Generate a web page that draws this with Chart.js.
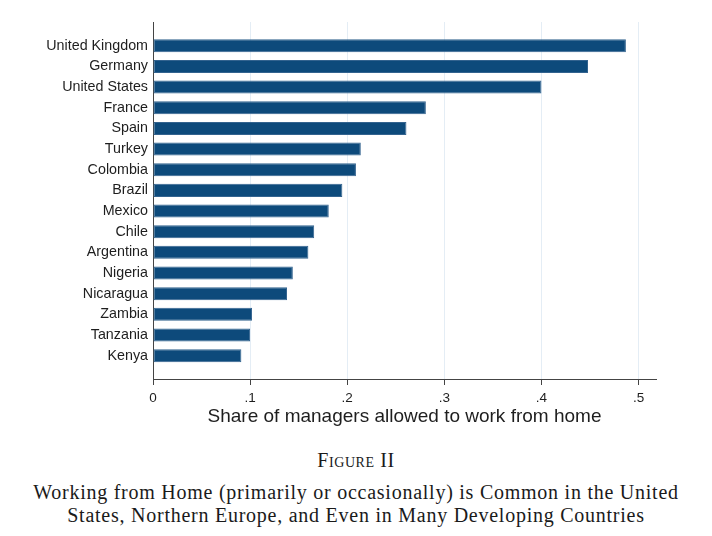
<!DOCTYPE html>
<html>
<head>
<meta charset="utf-8">
<script src="https://cdn.jsdelivr.net/npm/chart.js@4"></script>
<style>
  body { margin: 0; background: #fff; }
  #wrap { position: relative; width: 712px; height: 536px; }
  #chart { position: absolute; left: 0; top: 0; }
  .caption { position: absolute; left: 0; width: 712px; text-align: center;
             font-family: "Liberation Serif", "DejaVu Serif", serif; color: #1a1a1a; }
  #fig { top: 449px; font-size: 20px; letter-spacing: 0.6px; font-variant: small-caps; }
  #cap { top: 481px; font-size: 20px; letter-spacing: 0.75px; line-height: 23px; }
</style>
</head>
<body>
<div id="wrap">
  <canvas id="chart" width="712" height="440"></canvas>
  <div class="caption" id="fig">Figure II</div>
  <div class="caption" id="cap">Working from Home (primarily or occasionally) is Common in the United<br>States, Northern Europe, and Even in Many Developing Countries</div>
</div>
<script>
// countries, top to bottom
const countries = ["United Kingdom", "Germany", "United States", "France", "Spain", "Turkey",
    "Colombia", "Brazil", "Mexico", "Chile", "Argentina", "Nigeria", "Nicaragua",
    "Zambia", "Tanzania", "Kenya"];

// share of managers allowed to work from home
const shares = [0.487, 0.448, 0.400, 0.281, 0.261, 0.214, 0.209, 0.195, 0.181, 0.166,
    0.160, 0.144, 0.138, 0.102, 0.100, 0.091];

// x axis ticks
const xTickValues = [0, 0.1, 0.2, 0.3, 0.4, 0.5];
const xTickLabels = ["0", ".1", ".2", ".3", ".4", ".5"];

const textColor = "#1e1e1e";

const ctx = document.getElementById("chart").getContext("2d");

new Chart(ctx, {
    type: "bar",
    data: {
        datasets: [{
            data: shares.map((v, i) => ({ x: v, y: i })),
            backgroundColor: "#0d4a7b",
            borderColor: "#33638f",
            borderWidth: 1,
            borderSkipped: false,
            categoryPercentage: 1,
            barPercentage: 0.63
        }]
    },
    options: {
        indexAxis: "y",
        responsive: false,
        animation: false,
        layout: { padding: { top: 22, right: 56, left: 0, bottom: 0 } },
        plugins: {
            legend: { display: false },
            tooltip: { enabled: false }
        },
        scales: {
            x: {
                type: "linear",
                min: 0,
                max: 0.518,
                afterFit: s => { s.height = 61; },
                afterBuildTicks: s => { s.ticks = xTickValues.map(v => ({ value: v })); },
                grid: {
                    color: "#e4edf5",
                    tickColor: "#444",
                    tickLength: 6
                },
                border: { color: "#444", width: 1 },
                ticks: {
                    padding: 5,
                    maxRotation: 0,
                    color: textColor,
                    font: { family: "Liberation Sans, Arial, sans-serif", size: 13.5 },
                    callback: (val, idx) => xTickLabels[idx]
                },
                title: {
                    display: true,
                    text: "Share of managers allowed to work from home",
                    color: textColor,
                    font: { family: "Liberation Sans, Arial, sans-serif", size: 19 },
                    padding: { top: 0, bottom: 12 }
                }
            },
            y: {
                type: "linear",
                reverse: true,
                offset: false,
                min: -1.15,
                max: 16.13,
                afterFit: s => { s.width = 153; },
                afterBuildTicks: s => { s.ticks = countries.map((c, i) => ({ value: i })); },
                grid: { display: false, drawTicks: false, offset: false },
                border: { display: true, color: "#444", width: 1 },
                ticks: {
                    padding: 5,
                    color: textColor,
                    font: { family: "Liberation Sans, Arial, sans-serif", size: 14.3 },
                    callback: (val) => countries[val]
                }
            }
        }
    }
});
</script>
</body>
</html>
